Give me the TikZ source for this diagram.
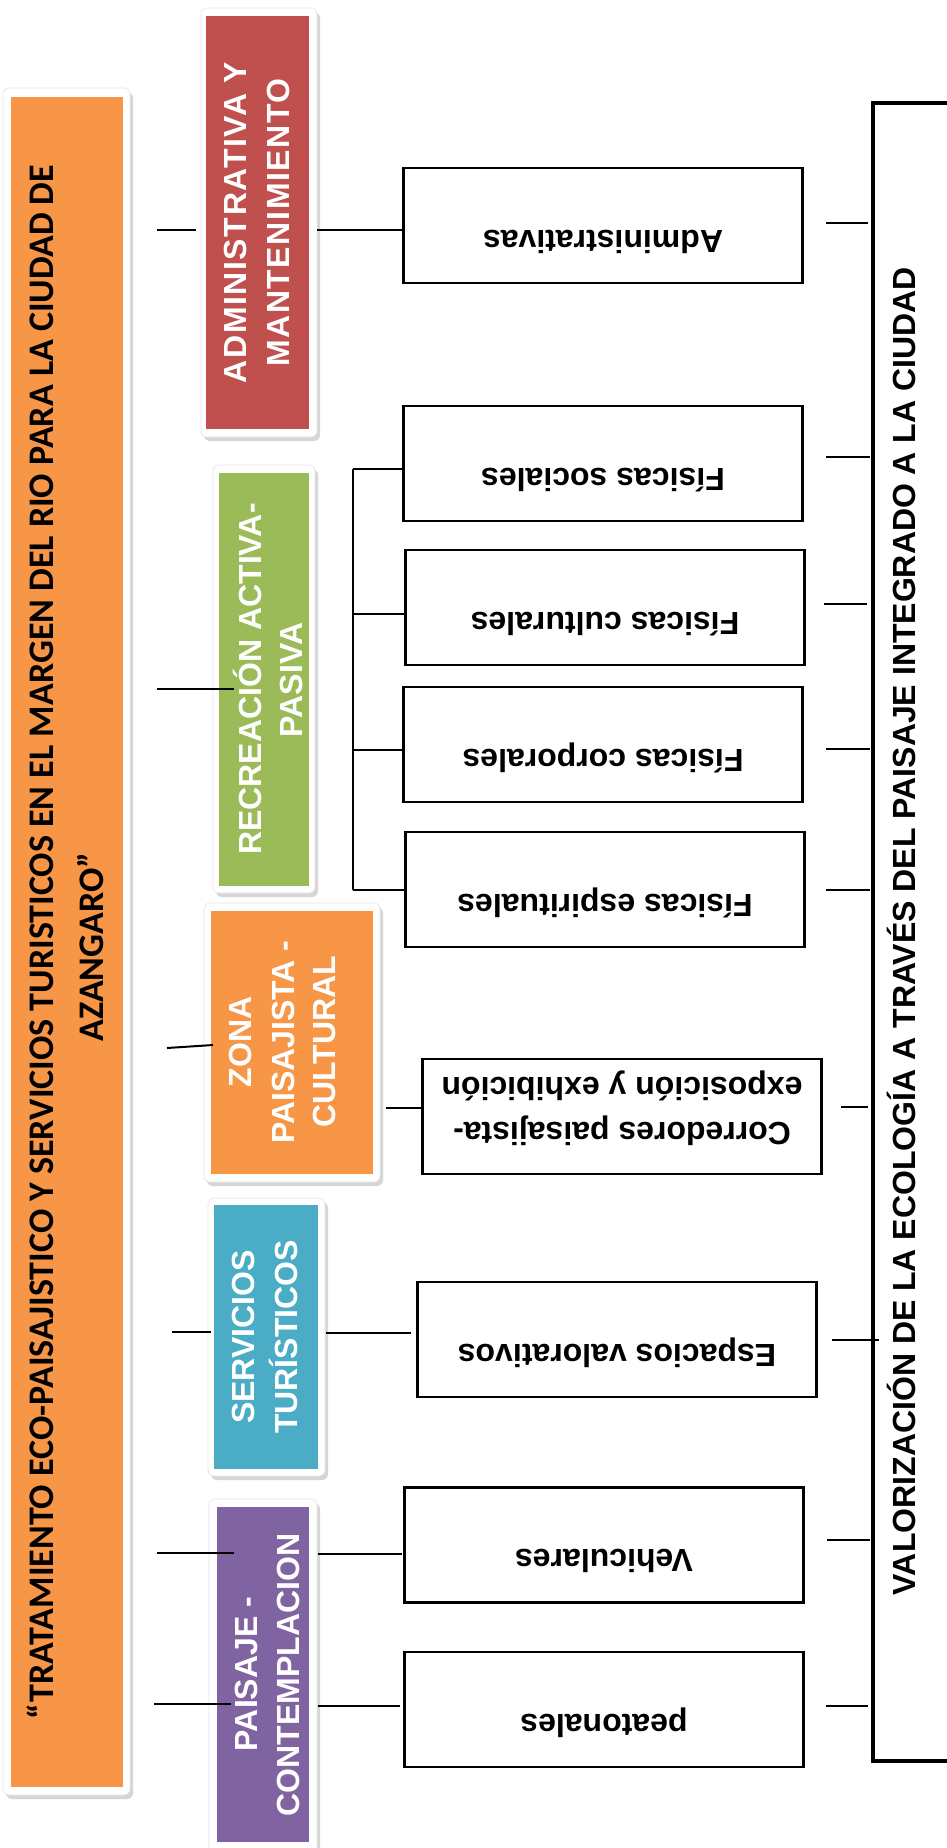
\documentclass[tikz,border=0pt]{standalone}
\usepackage{fontspec}
\setmainfont{Liberation Sans}
\newfontfamily\titlefont{Carlito}
\newfontfamily\spacedfont[LetterSpace=5]{Liberation Sans}
\definecolor{corange}{HTML}{F79646}
\definecolor{cred}{HTML}{C0504D}
\definecolor{cgreen}{HTML}{9BBB59}
\definecolor{cblue}{HTML}{4BACC6}
\definecolor{cpurple}{HTML}{8064A2}
\begin{document}
\begin{tikzpicture}[x=1pt,y=-1pt,
  wbox/.style={draw=black, line width=2.5pt, fill=white, inner sep=0pt, minimum width=399pt, minimum height=115pt},
  catbox/.style={inner sep=0pt, draw=none},
  fshadow/.style={fill=black!16, rounded corners=6pt},
  fface/.style={fill=white, draw=black!10, line width=0.6pt, rounded corners=6pt},
  cattext/.style={text=white, font=\bfseries\fontsize{32}{38}\selectfont, rotate=90, anchor=base, inner sep=0pt},
  spacedtext/.style={cattext, font=\spacedfont\bfseries\fontsize{32}{38}\selectfont},
  wtext/.style={font=\bfseries\fontsize{32}{38}\selectfont, rotate=180, anchor=base, inner sep=0pt},
  titletext/.style={font=\titlefont\bfseries\fontsize{36}{42}\selectfont, rotate=90, anchor=base, inner sep=0pt},
  bigtext/.style={font=\bfseries\fontsize{32}{38}\selectfont, rotate=90, anchor=base, inner sep=0pt},
  conn/.style={line width=2pt, black}]
\useasboundingbox (0,0) rectangle (947,1848);
\clip (0,0) rectangle (947,1848);
\fill[white] (0,0) rectangle (947,1848);

% ---------- frames (white picture frames with soft shadow)
\foreach \xa/\ya/\xb/\yb in {3/88/130/1795, 201/8/317/437, 213/465/315/893, 204/903/380/1182, 208/1198/325/1476, 209/1499/317/1856}{
  \path[fshadow] (\xa+3,\ya+4) rectangle (\xb+3,\yb+4);
  \path[fface] (\xa,\ya) rectangle (\xb,\yb);
}

% ---------- coloured boxes
\node[catbox, fill=corange, minimum width=112pt, minimum height=1690pt] (title) at (67,942) {};
\node[catbox, fill=cred, minimum width=103pt, minimum height=413pt] (adm) at (257.5,222.5) {};
\node[catbox, fill=cgreen, minimum width=90pt, minimum height=413pt] (rec) at (264,679.5) {};
\node[catbox, fill=corange, minimum width=162pt, minimum height=263pt] (zona) at (292,1042.5) {};
\node[catbox, fill=cblue, minimum width=104pt, minimum height=264pt] (serv) at (266,1337) {};
\node[catbox, fill=cpurple, minimum width=92pt, minimum height=335pt] (pais) at (263,1674.5) {};

% ---------- texts in coloured boxes
\node[titletext] (t1) at (53,942) {“TRATAMIENTO ECO-PAISAJISTICO Y SERVICIOS TURISTICOS EN EL MARGEN DEL RIO PARA LA CIUDAD DE};
\node[titletext] (t2) at (103,947) {AZANGARO”};
\node[spacedtext] (adm1) at (246,222.5) {ADMINISTRATIVA Y};
\node[spacedtext] (adm2) at (289,222.5) {MANTENIMIENTO};
\node[cattext] (rec1) at (261,679) {RECREACIÓN ACTIVA-};
\node[cattext] (rec2) at (302,680) {PASIVA};
\node[cattext] (zon1) at (251,1042) {ZONA};
\node[cattext] (zon2) at (294,1042) {PAISAJISTA -};
\node[cattext] (zon3) at (335,1042) {CULTURAL};
\node[cattext] (ser1) at (254,1337) {SERVICIOS};
\node[cattext] (ser2) at (297,1337) {TURÍSTICOS};
\node[cattext] (pai1) at (257,1674) {PAISAJE -};
\node[cattext] (pai2) at (299,1675) {CONTEMPLACION};

% ---------- white boxes
\node[wbox] (b1) at (603,225.5) {};
\node[wbox] (b2) at (603,463.5) {};
\node[wbox] (b3) at (605,607.5) {};
\node[wbox] (b4) at (603,744.5) {};
\node[wbox] (b5) at (605,889.5) {};
\node[wbox] (b6) at (622,1116.5) {};
\node[wbox] (b7) at (617,1339.5) {};
\node[wbox] (b8) at (604,1545) {};
\node[wbox] (b9) at (604,1709.5) {};

\node[wtext] (w1) at (603,230) {Administrativas};
\node[wtext] (w2) at (603,468) {Físicas sociales};
\node[wtext] (w3) at (605,612) {Físicas culturales};
\node[wtext] (w4) at (603,749) {Físicas corporales};
\node[wtext] (w5) at (605,894) {Físicas espirituales};
\node[wtext] (w6a) at (622,1122) {Corredores paisajista-};
\node[wtext] (w6b) at (622,1077) {exposición y exhibición};
\node[wtext] (w7) at (617,1344) {Espacios valorativos};
\node[wtext] (w8) at (604,1549.5) {Vehiculares};
\node[wtext] (w9) at (604,1714) {peatonales};

% ---------- big right box
\node[draw=black, line width=4pt, inner sep=0pt, minimum width=127pt, minimum height=1658pt] (big) at (936.5,932) {};
\node[bigtext] (bt) at (915,931) {VALORIZACIÓN DE LA ECOLOGÍA A TRAVÉS DEL PAISAJE INTEGRADO A LA CIUDAD};

% ---------- connector end points
\coordinate (l1a) at (157,230);  \coordinate (l1b) at (196,230);
\coordinate (l2a) at (157,689);  \coordinate (l2b) at (234,689);
\coordinate (l3a) at (167,1048); \coordinate (l3b) at (213,1045);
\coordinate (l4a) at (172,1332); \coordinate (l4b) at (211,1332);
\coordinate (l5a) at (157,1553); \coordinate (l5b) at (234,1553);
\coordinate (l6a) at (154,1704); \coordinate (l6b) at (231,1704);

\coordinate (m1a) at (317,230);  \coordinate (m1b) at (402,230);
\coordinate (m3a) at (386,1108); \coordinate (m3b) at (423,1108);
\coordinate (m4a) at (326,1333); \coordinate (m4b) at (411,1333);
\coordinate (m5a) at (318,1554); \coordinate (m5b) at (402,1554);
\coordinate (m6a) at (318,1706); \coordinate (m6b) at (400,1706);

\coordinate (br1) at (353,469); \coordinate (br2) at (353,614);
\coordinate (br3) at (353,750); \coordinate (br4) at (353,890);
\coordinate (bt1) at (405,469); \coordinate (bt2) at (407,614);
\coordinate (bt3) at (405,750); \coordinate (bt4) at (407,890);

\coordinate (r1a) at (826,223);  \coordinate (r1b) at (868,223);
\coordinate (r2a) at (826,457);  \coordinate (r2b) at (870,457);
\coordinate (r3a) at (824,604);  \coordinate (r3b) at (867,604);
\coordinate (r4a) at (826,749);  \coordinate (r4b) at (870,749);
\coordinate (r5a) at (826,890);  \coordinate (r5b) at (870,890);
\coordinate (r6a) at (841,1107); \coordinate (r6b) at (868,1107);
\coordinate (r7a) at (832,1340); \coordinate (r7b) at (879,1340);
\coordinate (r8a) at (827,1540); \coordinate (r8b) at (870,1540);
\coordinate (r9a) at (826,1706); \coordinate (r9b) at (868,1706);

% ---------- connectors
\foreach \p in {l1,l2,l3,l4,l5,l6,m1,m3,m4,m5,m6,r1,r2,r3,r4,r5,r6,r7,r8,r9}{
  \draw[conn] (\p a) -- (\p b);
}
\draw[conn] (br1) -- (br4);
\foreach \i in {1,2,3,4}{ \draw[conn] (br\i) -- (bt\i); }
\end{tikzpicture}
\end{document}
